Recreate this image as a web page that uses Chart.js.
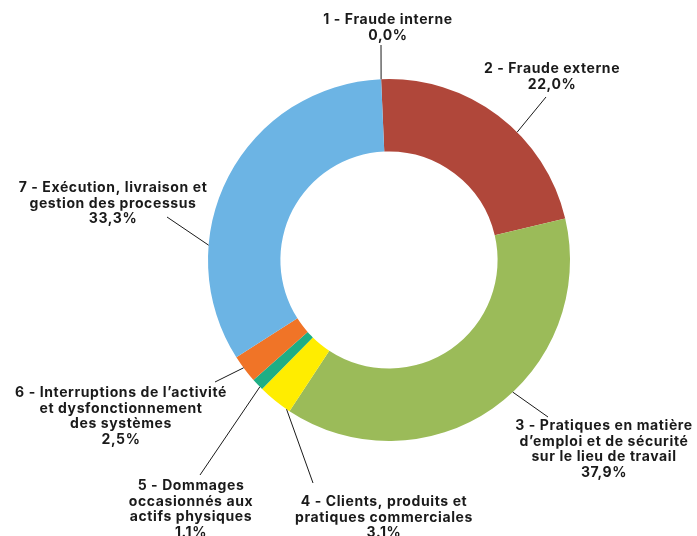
<!DOCTYPE html>
<html>
<head>
<meta charset="utf-8">
<script src="https://cdn.jsdelivr.net/npm/chart.js@4.4.1/dist/chart.umd.min.js"></script>
<style>
    html, body { margin: 0; padding: 0; background: #ffffff; }
    #chart-wrap { width: 697px; height: 536px; position: relative; }
</style>
</head>
<body>
<div id="chart-wrap"><canvas id="risk-chart"></canvas></div>
<script>
// categories (one array of lines per slice, as printed on the chart)
const categories = [
    ["1 - Fraude interne"],
    ["2 - Fraude externe"],
    ["3 - Pratiques en matière", "d’emploi et de sécurité", "sur le lieu de travail"],
    ["4 - Clients, produits et", "pratiques commerciales"],
    ["5 - Dommages", "occasionnés aux", "actifs physiques"],
    ["6 - Interruptions de l’activité", "et dysfonctionnement", "des systèmes"],
    ["7 - Exécution, livraison et", "gestion des processus"],
];
const values = [0.0, 22.0, 37.9, 3.1, 1.1, 2.5, 33.3];
const valueLabels = ["0,0%", "22,0%", "37,9%", "3.1%", "1.1%", "2,5%", "33,3%"];
const sliceColors = ["#5B9BD5", "#B0473A", "#9BBB59", "#FFED00", "#1EAE85", "#F07427", "#6CB4E4"];

// where each callout sits: text centre / first line y, leader start, and
// how far along the slice the leader touches it
const callouts = [
    { x: 388, y: 20, from: [381, 45], at: 0 },
    { x: 552, y: 69, from: [546, 97], at: 0.6 },
    { x: 604, y: 426, from: [548, 417], at: 0.44 },
    { x: 384, y: 502, from: [313, 483], at: 0.1 },
    { x: 191, y: 486, from: [200, 475], at: 0.25 },
    { x: 121, y: 393, from: [215, 382], at: 0.55 },
    { x: 113, y: 188, from: [167, 217], at: 0.31 },
];

const LINE_H = 15.5;

// draws the labels outside the ring with their leader lines
const calloutPlugin = {
    id: "callouts",
    afterDraw(chart) {
        const ctx = chart.ctx;
        const arcs = chart.getDatasetMeta(0).data;
        ctx.save();
        arcs.forEach((arc, i) => {
            const c = callouts[i];
            const p = arc.getProps(["x", "y", "startAngle", "endAngle", "outerRadius"], true);
            const a = p.startAngle + c.at * (p.endAngle - p.startAngle);
            const ex = p.x + Math.cos(a) * p.outerRadius;
            const ey = p.y + Math.sin(a) * p.outerRadius;

            ctx.strokeStyle = "#1a1a1a";
            ctx.lineWidth = 1;
            ctx.beginPath();
            ctx.moveTo(c.from[0], c.from[1]);
            ctx.lineTo(ex, ey);
            ctx.stroke();

            ctx.fillStyle = "#1a1a1a";
            ctx.font = "700 14px Inter, 'DejaVu Sans', sans-serif";
            ctx.letterSpacing = "0.6px";
            ctx.textAlign = "center";
            ctx.textBaseline = "middle";
            const lines = categories[i].concat([valueLabels[i]]);
            lines.forEach((txt, k) => {
                ctx.fillText(txt, c.x, c.y + k * LINE_H);
            });
        });
        ctx.restore();
    },
};

const riskChart = new Chart(document.getElementById("risk-chart"), {
    type: "doughnut",
    data: {
        labels: categories,
        datasets: [
            {
                data: values,
                backgroundColor: sliceColors,
                borderWidth: 0,
                hoverOffset: 0,
            },
        ],
    },
    options: {
        responsive: true,
        maintainAspectRatio: false,
        animation: false,
        cutout: "60%",
        rotation: -2.5,
        layout: {
            padding: { top: 79, bottom: 95, left: 208, right: 127 },
        },
        plugins: {
            legend: { display: false },
            tooltip: { enabled: false },
        },
    },
    plugins: [calloutPlugin],
});
</script>
</body>
</html>
